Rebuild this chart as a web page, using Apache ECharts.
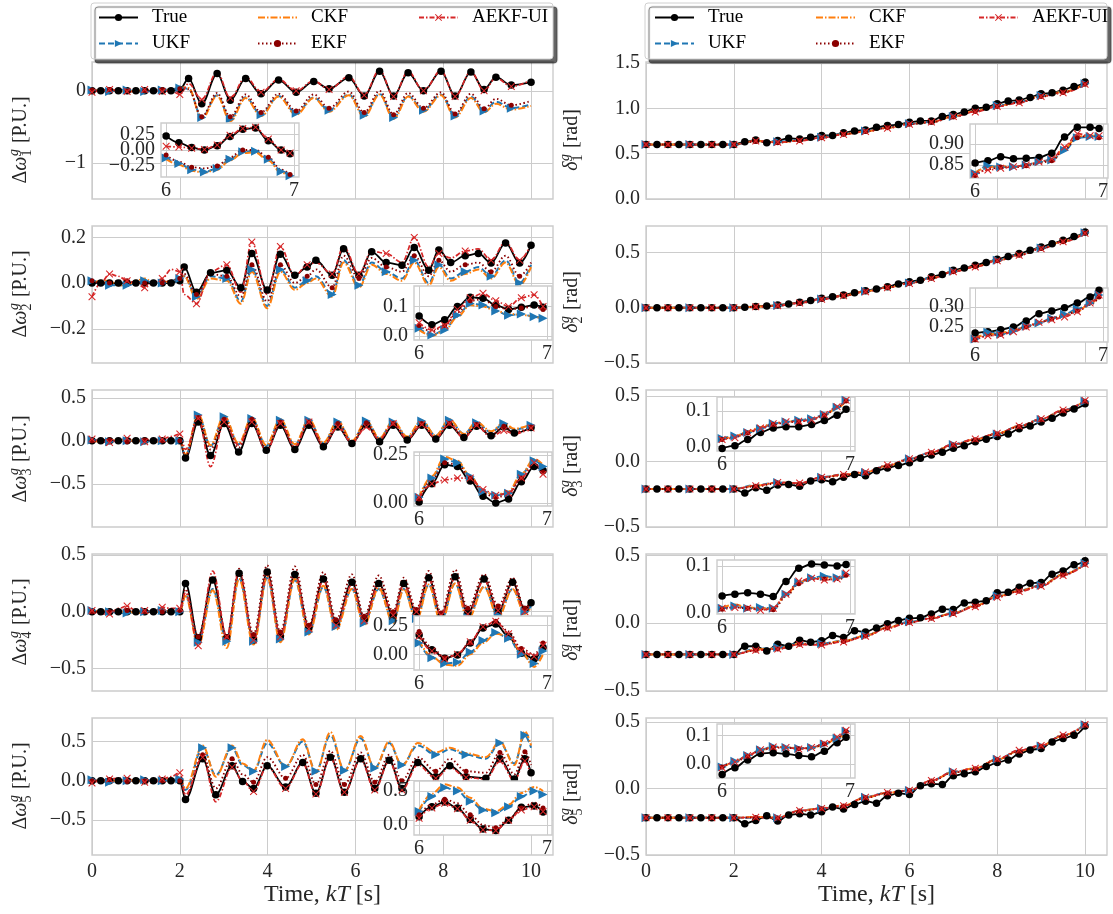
<!DOCTYPE html>
<html>
<head>
<meta charset="utf-8">
<script src="https://cdn.jsdelivr.net/npm/echarts@6/dist/echarts.min.js"></script>
<style>
  html, body { margin: 0; padding: 0; background: #fff; }
  #chart { width: 1113px; height: 914px; }
</style>
</head>
<body>
<div id="chart"></div>
<script>
// ---- time grids ----
const tW1 = [0, 0.2, 0.4, 0.6, 0.8, 1.0, 1.2, 1.4, 1.6, 1.8, 2.0, 2.2, 2.5, 2.85, 3.15, 3.5, 3.85, 4.25, 4.65, 5.05, 5.4, 5.85, 6.2, 6.55, 6.87, 7.2, 7.55, 7.95, 8.27, 8.63, 8.93, 9.2, 9.55, 10]
const tW2 = [0, 0.2, 0.4, 0.6, 0.8, 1.0, 1.2, 1.4, 1.6, 1.8, 2.0, 2.1, 2.38, 2.7, 3.07, 3.39, 3.64, 3.99, 4.29, 4.62, 4.9, 5.1, 5.47, 5.73, 6.08, 6.37, 6.7, 7.06, 7.34, 7.67, 7.9, 8.17, 8.5, 8.8, 9.09, 9.42, 9.74, 10]
const tW3 = [0, 0.2, 0.4, 0.6, 0.8, 1.0, 1.2, 1.4, 1.6, 1.8, 2.0, 2.13, 2.42, 2.7, 3.01, 3.34, 3.64, 3.97, 4.29, 4.62, 4.94, 5.27, 5.6, 5.92, 6.25, 6.55, 6.86, 7.18, 7.51, 7.83, 8.14, 8.47, 8.76, 9.09, 9.38, 9.62, 10]
const tW4 = [0, 0.2, 0.4, 0.6, 0.8, 1.0, 1.2, 1.4, 1.6, 1.8, 2.0, 2.13, 2.42, 2.75, 3.07, 3.35, 3.68, 3.99, 4.29, 4.62, 4.94, 5.27, 5.56, 5.92, 6.2, 6.53, 6.86, 7.1, 7.39, 7.67, 7.95, 8.27, 8.56, 8.93, 9.25, 9.58, 9.86, 10]
const tW5 = [0, 0.2, 0.4, 0.6, 0.8, 1.0, 1.2, 1.4, 1.6, 1.8, 2.0, 2.13, 2.52, 2.82, 3.19, 3.43, 3.68, 3.99, 4.41, 4.8, 5.1, 5.43, 5.75, 6.12, 6.44, 6.77, 7.06, 7.42, 7.83, 8.15, 8.52, 8.97, 9.29, 9.62, 9.86, 10]
const tD = [0, 0.25, 0.5, 0.75, 1, 1.25, 1.5, 1.75, 2, 2.25, 2.5, 2.75, 3, 3.25, 3.5, 3.75, 4, 4.25, 4.5, 4.75, 5, 5.25, 5.5, 5.75, 6, 6.25, 6.5, 6.75, 7, 7.25, 7.5, 7.75, 8, 8.25, 8.5, 8.75, 9, 9.25, 9.5, 9.75, 10]
const tDe = [0, 0.5, 1, 1.5, 2, 2.5, 3, 3.5, 4, 4.5, 5, 5.5, 6, 6.5, 7, 7.5, 8, 8.5, 9, 9.5, 10]
const tIn = [6, 6.1, 6.2, 6.3, 6.4, 6.5, 6.6, 6.7, 6.8, 6.9, 6.97]

// ---- speed deviation, generator 1..5 ----
const w1True = [0, 0, 0, 0, 0, 0, 0, 0, 0, 0, 0.02, 0.17, -0.18, 0.24, -0.13, 0.17, -0.04, 0.15, -0.02, 0.13, 0.03, 0.18, -0.07, 0.27, -0.07, 0.25, 0.0, 0.27, -0.07, 0.26, 0.02, 0.19, 0.08, 0.12]
const w1Ukf = [0.01, 0.0, -0.01, 0.01, 0.01, -0.01, -0.01, 0.0, 0.01, 0.02, 0.04, 0.03, -0.37, -0.06, -0.39, -0.09, -0.33, -0.07, -0.31, -0.09, -0.27, -0.05, -0.34, -0.04, -0.37, -0.07, -0.27, -0.05, -0.35, -0.08, -0.28, -0.15, -0.24, -0.19]
const w1Ckf = [0, 0.01, 0.01, 0.0, -0.01, 0.0, 0.01, 0.0, 0, 0.02, 0.05, 0.04, -0.39, -0.07, -0.42, -0.1, -0.35, -0.08, -0.33, -0.1, -0.29, -0.06, -0.36, -0.05, -0.39, -0.08, -0.29, -0.06, -0.37, -0.1, -0.3, -0.18, -0.26, -0.21]
const w1Ekf = [0.01, 0.0, 0.02, 0.01, 0.0, -0.01, 0.0, 0.01, 0.02, 0.01, 0.03, 0.02, -0.36, -0.03, -0.36, -0.05, -0.3, -0.04, -0.28, -0.05, -0.24, -0.01, -0.3, 0.0, -0.33, -0.03, -0.24, -0.02, -0.32, -0.04, -0.25, -0.11, -0.2, -0.14]
const w1Aekf = [-0.02, 0.0, 0.02, 0.0, -0.01, -0.02, 0.02, 0.01, -0.01, 0.0, -0.05, 0.1, -0.12, 0.26, -0.1, 0.19, -0.02, 0.16, 0.0, 0.14, 0.02, 0.2, -0.06, 0.29, -0.08, 0.27, 0.0, 0.28, -0.08, 0.27, 0.0, 0.18, 0.06, 0.15]

const w2True = [0, 0, 0, 0, 0, 0, 0, 0, 0, 0, 0.01, 0.07, -0.04, 0.045, 0.056, -0.02, 0.13, -0.03, 0.126, 0.034, 0.07, 0.1, 0.034, 0.15, 0.034, 0.137, 0.09, 0.078, 0.156, 0.056, 0.145, 0.09, 0.12, 0.13, 0.088, 0.176, 0.088, 0.166]
const w2Ukf = [0.01, 0.0, -0.01, -0.01, -0.01, 0.0, 0.01, 0.0, 0.0, 0.01, 0.02, 0.03, -0.06, 0.03, 0.02, -0.08, 0.06, -0.1, 0.06, -0.02, 0.01, 0.03, -0.05, 0.1, -0.01, 0.09, 0.05, 0.02, 0.1, 0.0, 0.08, 0.02, 0.05, 0.07, 0.03, 0.1, 0.0, 0.08]
const w2Ckf = [0.0, 0.01, 0.01, -0.01, -0.01, 0.01, 0.02, 0.0, 0.0, 0.01, 0.02, 0.03, -0.07, 0.02, 0.01, -0.09, 0.05, -0.11, 0.05, -0.03, 0.0, 0.02, -0.06, 0.09, -0.02, 0.08, 0.04, 0.01, 0.09, -0.01, 0.07, 0.01, 0.04, 0.06, 0.02, 0.09, -0.01, 0.07]
const w2Ekf = [0.01, 0.0, 0.0, 0.01, 0.01, 0.0, 0.0, 0.0, 0.0, 0.01, 0.02, 0.04, -0.05, 0.04, 0.03, -0.06, 0.08, -0.08, 0.08, 0.0, 0.03, 0.06, -0.02, 0.12, 0.02, 0.11, 0.07, 0.05, 0.12, 0.03, 0.1, 0.05, 0.08, 0.09, 0.05, 0.12, 0.03, 0.09]
const w2Aekf = [-0.06, 0.0, 0.04, 0.03, 0.01, 0.0, -0.02, 0.0, 0.02, 0.06, 0.05, -0.05, -0.09, 0.05, 0.08, -0.04, 0.18, -0.05, 0.16, 0.03, 0.08, 0.09, 0.04, 0.16, 0.04, 0.14, 0.13, 0.09, 0.2, 0.07, 0.13, 0.11, 0.14, 0.15, 0.1, 0.18, 0.1, 0.17]

const w3True = [0, 0, 0, 0, 0, 0, 0, 0, 0, 0, 0, -0.2, 0.22, -0.17, 0.2, -0.13, 0.2, -0.11, 0.18, -0.1, 0.18, -0.07, 0.16, -0.03, 0.19, -0.01, 0.18, 0.01, 0.18, 0.02, 0.18, 0.04, 0.17, 0.06, 0.16, 0.09, 0.155]
const w3Ukf = [0.01, 0.0, -0.01, 0.0, 0.0, 0.01, -0.01, 0.0, 0.0, 0.01, 0.0, -0.17, 0.3, -0.06, 0.28, -0.04, 0.26, -0.06, 0.24, -0.05, 0.24, -0.03, 0.22, -0.01, 0.23, 0.03, 0.22, 0.04, 0.23, 0.06, 0.24, 0.08, 0.21, 0.1, 0.2, 0.13, 0.18]
const w3Ckf = [0.0, -0.01, 0.0, 0.01, 0.01, 0.0, 0.0, -0.01, -0.01, 0.0, 0.0, -0.16, 0.31, -0.05, 0.29, -0.03, 0.27, -0.05, 0.25, -0.04, 0.25, -0.02, 0.23, 0.0, 0.23, 0.03, 0.23, 0.05, 0.24, 0.06, 0.25, 0.08, 0.22, 0.11, 0.21, 0.14, 0.19]
const w3Ekf = [0.0, 0.01, 0.01, 0.0, -0.01, 0.0, 0.01, 0.0, 0.0, 0.0, 0.0, -0.18, 0.27, -0.1, 0.25, -0.08, 0.25, -0.1, 0.22, -0.08, 0.22, -0.05, 0.2, -0.02, 0.21, 0.01, 0.2, 0.02, 0.2, 0.03, 0.2, 0.05, 0.19, 0.07, 0.17, 0.1, 0.16]
const w3Aekf = [0.02, -0.01, -0.02, 0.01, 0.03, 0.0, -0.01, 0.01, 0.02, 0.05, 0.08, -0.1, 0.26, -0.3, 0.22, -0.05, 0.22, -0.12, 0.2, -0.07, 0.22, -0.06, 0.16, -0.02, 0.16, 0.02, 0.2, 0.02, 0.19, 0.03, 0.2, 0.03, 0.18, 0.04, 0.12, 0.08, 0.15]

const w4True = [0, 0, 0, 0, 0, 0, 0, 0, 0, 0, 0, 0.25, -0.23, 0.28, -0.23, 0.34, -0.25, 0.35, -0.22, 0.33, -0.14, 0.29, -0.11, 0.26, -0.07, 0.25, -0.03, 0.25, -0.01, 0.3, -0.04, 0.31, -0.01, 0.29, 0.0, 0.26, 0.02, 0.08]
const w4Ukf = [0.01, 0.0, 0.0, -0.01, -0.01, 0.0, 0.0, 0.01, 0.01, 0.0, 0.0, 0.15, -0.27, 0.2, -0.26, 0.3, -0.26, 0.3, -0.24, 0.28, -0.18, 0.22, -0.13, 0.2, -0.1, 0.2, -0.08, 0.2, -0.06, 0.24, -0.08, 0.25, -0.05, 0.22, -0.03, 0.2, 0.0, 0.05]
const w4Ckf = [0.0, 0.01, 0.01, 0.0, 0.0, -0.01, -0.01, 0.0, 0.0, 0.01, 0.0, 0.14, -0.3, 0.19, -0.32, 0.29, -0.29, 0.31, -0.27, 0.29, -0.2, 0.23, -0.16, 0.2, -0.12, 0.21, -0.1, 0.2, -0.08, 0.24, -0.1, 0.25, -0.07, 0.22, -0.05, 0.2, -0.02, 0.04]
const w4Ekf = [0.0, 0.0, 0.0, 0.01, 0.01, 0.0, 0.0, 0.0, 0.0, 0.0, 0.01, 0.2, -0.22, 0.3, -0.22, 0.38, -0.2, 0.41, -0.18, 0.4, -0.12, 0.35, -0.07, 0.33, -0.04, 0.32, 0.0, 0.3, 0.02, 0.36, -0.01, 0.37, 0.03, 0.33, 0.05, 0.3, 0.03, 0.1]
const w4Aekf = [0.01, -0.02, -0.02, 0.03, 0.05, 0.01, 0.01, 0.0, 0.04, 0.03, 0.03, 0.17, -0.3, 0.36, -0.22, 0.36, -0.25, 0.33, -0.22, 0.33, -0.15, 0.28, -0.12, 0.24, -0.08, 0.24, -0.03, 0.24, 0.0, 0.29, -0.03, 0.3, -0.02, 0.28, 0.01, 0.25, 0.0, 0.1]

const w5True = [0, 0, 0, 0, 0, 0, 0, 0, 0, 0, 0, -0.24, 0.28, -0.18, 0.19, -0.01, -0.1, 0.19, -0.08, 0.23, -0.16, 0.3, -0.15, 0.28, -0.1, 0.26, -0.1, 0.23, 0.05, 0.19, 0.05, 0.03, 0.28, 0.02, 0.28, 0.1]
const w5Ukf = [0.01, -0.01, -0.02, 0.0, 0.0, 0.01, 0.01, 0.0, 0.0, 0.01, 0.02, -0.12, 0.42, 0.07, 0.42, 0.2, 0.12, 0.48, 0.18, 0.5, 0.12, 0.58, 0.13, 0.54, 0.16, 0.48, 0.2, 0.45, 0.33, 0.4, 0.33, 0.28, 0.48, 0.22, 0.58, 0.42]
const w5Ckf = [0.0, 0.0, -0.01, 0.0, 0.01, 0.0, 0.0, 0.01, 0.01, 0.02, 0.02, -0.1, 0.45, 0.05, 0.45, 0.22, 0.13, 0.52, 0.18, 0.53, 0.1, 0.62, 0.12, 0.57, 0.15, 0.5, 0.19, 0.48, 0.36, 0.42, 0.35, 0.3, 0.5, 0.2, 0.63, 0.45]
const w5Ekf = [0.0, 0.0, 0.01, 0.0, -0.01, 0.0, 0.0, 0.0, 0.0, 0.0, 0.0, -0.2, 0.33, -0.1, 0.28, 0.08, -0.02, 0.3, 0.03, 0.33, -0.05, 0.38, -0.05, 0.36, -0.02, 0.33, 0.0, 0.3, 0.12, 0.28, 0.12, 0.1, 0.36, 0.08, 0.37, 0.2]
const w5Aekf = [-0.03, 0.0, 0.02, 0.03, 0.03, -0.01, -0.02, -0.03, 0.02, 0.05, 0.1, -0.18, 0.3, -0.27, 0.17, 0.0, -0.14, 0.18, -0.1, 0.22, -0.17, 0.29, -0.15, 0.27, -0.12, 0.25, -0.12, 0.2, 0.03, 0.17, 0.04, 0.02, 0.25, 0.0, 0.25, 0.06]

// ---- rotor angle, generator 1..5 (True on tD, estimators on tDe) ----
const d1True = [0.6, 0.6, 0.6, 0.6, 0.6, 0.6, 0.6, 0.6, 0.6, 0.63, 0.65, 0.62, 0.645, 0.67, 0.66, 0.68, 0.7, 0.7, 0.73, 0.75, 0.76, 0.79, 0.81, 0.82, 0.845, 0.86, 0.86, 0.91, 0.93, 0.96, 1.0, 1.01, 1.05, 1.08, 1.09, 1.12, 1.16, 1.17, 1.2, 1.24, 1.29]
const d1Ukf = [0.6, 0.6, 0.6, 0.6, 0.6, 0.64, 0.63, 0.65, 0.68, 0.72, 0.75, 0.79, 0.83, 0.85, 0.91, 0.97, 1.03, 1.07, 1.14, 1.18, 1.27]
const d1Ckf = [0.6, 0.6, 0.6, 0.6, 0.6, 0.64, 0.625, 0.645, 0.68, 0.715, 0.745, 0.785, 0.83, 0.848, 0.91, 0.97, 1.025, 1.07, 1.135, 1.18, 1.27]
const d1Ekf = [0.6, 0.6, 0.6, 0.6, 0.6, 0.635, 0.62, 0.645, 0.675, 0.715, 0.745, 0.785, 0.825, 0.845, 0.905, 0.965, 1.02, 1.065, 1.13, 1.175, 1.265]
const d1Aekf = [0.6, 0.6, 0.6, 0.6, 0.6, 0.64, 0.625, 0.64, 0.675, 0.71, 0.745, 0.78, 0.825, 0.85, 0.91, 0.96, 1.02, 1.06, 1.13, 1.17, 1.265]

const d2True = [0, 0, 0, 0, 0, 0, 0, 0, 0, 0.005, 0.012, 0.015, 0.025, 0.035, 0.05, 0.065, 0.085, 0.1, 0.115, 0.135, 0.155, 0.17, 0.19, 0.215, 0.235, 0.25, 0.28, 0.3, 0.34, 0.36, 0.385, 0.41, 0.44, 0.465, 0.49, 0.52, 0.55, 0.58, 0.61, 0.645, 0.685]
const d2Ukf = [0, 0, 0, 0, 0, 0.01, 0.02, 0.045, 0.08, 0.11, 0.15, 0.185, 0.225, 0.27, 0.33, 0.375, 0.43, 0.48, 0.54, 0.6, 0.68]
const d2Ckf = [0, 0, 0, 0, 0, 0.01, 0.02, 0.044, 0.078, 0.11, 0.148, 0.185, 0.222, 0.268, 0.328, 0.373, 0.428, 0.478, 0.538, 0.6, 0.678]
const d2Ekf = [0, 0, 0, 0, 0, 0.009, 0.018, 0.043, 0.077, 0.108, 0.147, 0.183, 0.222, 0.266, 0.326, 0.371, 0.426, 0.476, 0.536, 0.598, 0.676]
const d2Aekf = [0, 0, 0, 0, 0, 0.008, 0.018, 0.043, 0.077, 0.108, 0.146, 0.182, 0.22, 0.265, 0.325, 0.37, 0.425, 0.475, 0.535, 0.597, 0.675]

const d3True = [-0.21, -0.21, -0.21, -0.21, -0.21, -0.21, -0.21, -0.21, -0.21, -0.24, -0.2, -0.22, -0.18, -0.175, -0.19, -0.15, -0.14, -0.155, -0.12, -0.1, -0.11, -0.07, -0.05, -0.03, -0.01, 0.025, 0.05, 0.07, 0.1, 0.12, 0.15, 0.17, 0.19, 0.21, 0.25, 0.27, 0.3, 0.33, 0.37, 0.4, 0.44]
const d3Ukf = [-0.21, -0.21, -0.21, -0.21, -0.21, -0.18, -0.16, -0.17, -0.12, -0.1, -0.085, -0.03, 0.02, 0.07, 0.13, 0.17, 0.21, 0.27, 0.32, 0.39, 0.46]
const d3Ckf = [-0.21, -0.21, -0.21, -0.21, -0.21, -0.185, -0.16, -0.168, -0.122, -0.1, -0.083, -0.032, 0.018, 0.068, 0.128, 0.168, 0.212, 0.268, 0.322, 0.388, 0.462]
const d3Ekf = [-0.21, -0.21, -0.21, -0.21, -0.21, -0.19, -0.165, -0.17, -0.125, -0.105, -0.088, -0.035, 0.015, 0.066, 0.125, 0.166, 0.21, 0.266, 0.318, 0.386, 0.46]
const d3Aekf = [-0.21, -0.21, -0.21, -0.21, -0.21, -0.185, -0.16, -0.165, -0.12, -0.1, -0.08, -0.028, 0.02, 0.07, 0.13, 0.172, 0.215, 0.27, 0.325, 0.392, 0.465]

const d4True = [-0.23, -0.23, -0.23, -0.23, -0.23, -0.23, -0.23, -0.23, -0.23, -0.17, -0.17, -0.205, -0.155, -0.17, -0.125, -0.14, -0.13, -0.09, -0.105, -0.055, -0.065, -0.035, -0.005, 0.02, 0.036, 0.04, 0.068, 0.103, 0.1, 0.148, 0.155, 0.165, 0.225, 0.228, 0.265, 0.295, 0.3, 0.36, 0.385, 0.43, 0.46]
const d4Ukf = [-0.23, -0.23, -0.23, -0.23, -0.23, -0.19, -0.18, -0.15, -0.15, -0.13, -0.09, -0.03, 0.01, 0.04, 0.075, 0.13, 0.2, 0.24, 0.28, 0.36, 0.44]
const d4Ckf = [-0.23, -0.23, -0.23, -0.23, -0.23, -0.195, -0.185, -0.152, -0.152, -0.132, -0.092, -0.032, 0.008, 0.038, 0.073, 0.128, 0.198, 0.238, 0.278, 0.358, 0.438]
const d4Ekf = [-0.23, -0.23, -0.23, -0.23, -0.23, -0.2, -0.19, -0.155, -0.155, -0.135, -0.095, -0.035, 0.006, 0.036, 0.072, 0.125, 0.195, 0.236, 0.276, 0.355, 0.435]
const d4Aekf = [-0.23, -0.23, -0.23, -0.23, -0.23, -0.2, -0.19, -0.158, -0.16, -0.138, -0.097, -0.036, 0.005, 0.035, 0.07, 0.122, 0.192, 0.233, 0.273, 0.352, 0.435]

const d5True = [-0.22, -0.22, -0.22, -0.22, -0.22, -0.22, -0.22, -0.22, -0.22, -0.265, -0.24, -0.205, -0.245, -0.2, -0.19, -0.2, -0.175, -0.14, -0.155, -0.12, -0.095, -0.11, -0.055, -0.035, -0.045, 0.02, 0.035, 0.03, 0.095, 0.11, 0.125, 0.165, 0.195, 0.215, 0.26, 0.29, 0.3, 0.35, 0.375, 0.4, 0.47]
const d5Ukf = [-0.22, -0.22, -0.22, -0.22, -0.22, -0.22, -0.22, -0.165, -0.15, -0.13, -0.065, -0.03, -0.015, 0.06, 0.125, 0.15, 0.22, 0.285, 0.32, 0.4, 0.48]
const d5Ckf = [-0.22, -0.22, -0.22, -0.22, -0.22, -0.215, -0.218, -0.168, -0.148, -0.128, -0.068, -0.032, -0.012, 0.058, 0.123, 0.152, 0.218, 0.283, 0.322, 0.398, 0.478]
const d5Ekf = [-0.22, -0.22, -0.22, -0.22, -0.22, -0.218, -0.222, -0.17, -0.152, -0.132, -0.07, -0.034, -0.016, 0.056, 0.12, 0.148, 0.216, 0.28, 0.318, 0.396, 0.476]
const d5Aekf = [-0.22, -0.22, -0.22, -0.22, -0.22, -0.216, -0.22, -0.166, -0.15, -0.13, -0.066, -0.03, -0.014, 0.06, 0.126, 0.152, 0.222, 0.288, 0.324, 0.402, 0.482]

// ---- zoomed windows 6..7 s ----
const w1InTrue = [0.23, 0.12, 0.04, 0.0, 0.07, 0.22, 0.34, 0.36, 0.15, 0.0, -0.06]
const w1InUkf = [-0.13, -0.22, -0.32, -0.36, -0.3, -0.15, -0.03, -0.02, -0.15, -0.35, -0.42]
const w1InCkf = [-0.15, -0.24, -0.34, -0.37, -0.32, -0.17, -0.05, -0.04, -0.17, -0.37, -0.42]
const w1InEkf = [-0.08, -0.19, -0.28, -0.3, -0.26, -0.12, 0.0, 0.0, -0.12, -0.32, -0.4]
const w1InAekf = [0.06, 0.05, 0.03, 0.01, 0.08, 0.24, 0.35, 0.37, 0.18, 0.0, -0.05]

const w2InTrue = [0.068, 0.038, 0.055, 0.1, 0.132, 0.128, 0.105, 0.09, 0.098, 0.105, 0.098]
const w2InUkf = [0.026, 0.003, 0.02, 0.07, 0.11, 0.105, 0.085, 0.07, 0.075, 0.065, 0.06]
const w2InCkf = [0.02, 0.0, 0.018, 0.065, 0.105, 0.1, 0.085, 0.075, 0.072, 0.066, 0.058]
const w2InEkf = [0.035, 0.015, 0.035, 0.08, 0.12, 0.125, 0.1, 0.09, 0.095, 0.1, 0.09]
const w2InAekf = [0.045, 0.02, 0.035, 0.09, 0.13, 0.145, 0.12, 0.1, 0.13, 0.14, 0.1]

const w3InTrue = [0.005, 0.1, 0.2, 0.19, 0.115, 0.035, 0.0, 0.02, 0.11, 0.19, 0.17]
const w3InUkf = [0.03, 0.13, 0.23, 0.21, 0.14, 0.06, 0.04, 0.05, 0.15, 0.22, 0.19]
const w3InCkf = [0.03, 0.14, 0.24, 0.22, 0.14, 0.06, 0.04, 0.06, 0.15, 0.23, 0.2]
const w3InEkf = [0.02, 0.12, 0.21, 0.2, 0.13, 0.05, 0.03, 0.04, 0.13, 0.2, 0.16]
const w3InAekf = [0.03, 0.1, 0.12, 0.13, 0.13, 0.07, 0.04, 0.05, 0.13, 0.21, 0.15]

const w4InTrue = [0.17, 0.04, -0.035, -0.005, 0.1, 0.23, 0.265, 0.155, 0.01, -0.04, 0.06]
const w4InUkf = [0.1, -0.03, -0.08, -0.07, 0.02, 0.12, 0.19, 0.14, 0.0, -0.08, 0.03]
const w4InCkf = [0.12, -0.02, -0.09, -0.1, 0.0, 0.1, 0.18, 0.16, 0.02, -0.11, 0.0]
const w4InEkf = [0.2, 0.06, -0.03, 0.0, 0.1, 0.24, 0.29, 0.2, 0.05, 0.0, 0.1]
const w4InAekf = [0.16, 0.03, -0.04, 0.0, 0.11, 0.24, 0.29, 0.18, 0.03, -0.02, 0.08]

const w5InTrue = [0.12, 0.27, 0.34, 0.25, 0.08, -0.06, -0.08, 0.07, 0.26, 0.28, 0.19]
const w5InUkf = [0.2, 0.42, 0.55, 0.5, 0.35, 0.22, 0.18, 0.27, 0.42, 0.5, 0.45]
const w5InCkf = [0.22, 0.46, 0.6, 0.55, 0.4, 0.24, 0.2, 0.3, 0.47, 0.56, 0.5]
const w5InEkf = [0.15, 0.3, 0.38, 0.32, 0.15, 0.0, -0.04, 0.08, 0.25, 0.33, 0.25]
const w5InAekf = [0.1, 0.25, 0.32, 0.24, 0.07, -0.07, -0.08, 0.07, 0.22, 0.27, 0.2]

const d1InTrue = [0.855, 0.86, 0.87, 0.865, 0.866, 0.868, 0.878, 0.917, 0.94, 0.94, 0.937]
const d1InUkf = [0.83, 0.848, 0.845, 0.846, 0.85, 0.858, 0.862, 0.885, 0.915, 0.918, 0.918]
const d1InCkf = [0.832, 0.845, 0.847, 0.845, 0.85, 0.857, 0.86, 0.89, 0.918, 0.92, 0.92]
const d1InEkf = [0.825, 0.84, 0.845, 0.844, 0.848, 0.855, 0.86, 0.888, 0.915, 0.922, 0.915]
const d1InAekf = [0.828, 0.838, 0.842, 0.846, 0.85, 0.857, 0.865, 0.893, 0.925, 0.92, 0.92]

const d2InTrue = [0.235, 0.238, 0.243, 0.25, 0.265, 0.283, 0.29, 0.298, 0.31, 0.325, 0.342]
const d2InUkf = [0.22, 0.237, 0.232, 0.24, 0.252, 0.26, 0.272, 0.282, 0.295, 0.31, 0.33]
const d2InCkf = [0.222, 0.232, 0.235, 0.242, 0.25, 0.262, 0.27, 0.28, 0.29, 0.308, 0.328]
const d2InEkf = [0.218, 0.228, 0.232, 0.24, 0.25, 0.26, 0.27, 0.278, 0.29, 0.305, 0.325]
const d2InAekf = [0.22, 0.228, 0.23, 0.238, 0.25, 0.262, 0.268, 0.275, 0.288, 0.31, 0.33]

const d3InTrue = [-0.005, 0.003, 0.02, 0.04, 0.052, 0.056, 0.056, 0.062, 0.073, 0.088, 0.105]
const d3InUkf = [0.023, 0.03, 0.04, 0.05, 0.065, 0.07, 0.074, 0.078, 0.09, 0.11, 0.13]
const d3InCkf = [0.02, 0.028, 0.042, 0.055, 0.065, 0.07, 0.072, 0.076, 0.088, 0.108, 0.128]
const d3InEkf = [0.02, 0.027, 0.038, 0.05, 0.062, 0.068, 0.07, 0.075, 0.088, 0.11, 0.128]
const d3InAekf = [0.02, 0.025, 0.04, 0.052, 0.064, 0.07, 0.071, 0.075, 0.09, 0.112, 0.13]

const d4InTrue = [0.036, 0.04, 0.043, 0.04, 0.035, 0.067, 0.095, 0.104, 0.102, 0.1, 0.103]
const d4InUkf = [0.01, 0.015, 0.01, 0.012, 0.01, 0.04, 0.065, 0.075, 0.078, 0.075, 0.082]
const d4InCkf = [0.012, 0.018, 0.012, 0.01, 0.01, 0.038, 0.065, 0.073, 0.075, 0.072, 0.08]
const d4InEkf = [0.008, 0.012, 0.01, 0.008, 0.007, 0.035, 0.062, 0.072, 0.072, 0.07, 0.08]
const d4InAekf = [0.01, 0.012, 0.01, 0.006, 0.01, 0.04, 0.068, 0.074, 0.07, 0.072, 0.085]

const d5InTrue = [-0.036, -0.012, 0.015, 0.037, 0.04, 0.036, 0.03, 0.026, 0.045, 0.075, 0.094]
const d5InUkf = [-0.01, 0.01, 0.03, 0.05, 0.062, 0.058, 0.055, 0.058, 0.07, 0.09, 0.115]
const d5InCkf = [-0.012, 0.008, 0.03, 0.048, 0.06, 0.06, 0.055, 0.056, 0.068, 0.09, 0.112]
const d5InEkf = [-0.01, 0.006, 0.028, 0.048, 0.058, 0.057, 0.054, 0.056, 0.07, 0.092, 0.115]
const d5InAekf = [-0.012, 0.008, 0.03, 0.05, 0.06, 0.058, 0.053, 0.058, 0.072, 0.095, 0.118]

// ---- tick values / labels ----
const timeTicks = [0, 2, 4, 6, 8, 10]
const timeTickLabels = ['0', '2', '4', '6', '8', '10']
const zoomTicks = [6, 7]
const zoomTickLabels = ['6', '7']
const w1Ticks = [-1, 0]
const w1TickLabels = ['−1', '0']
const w2Ticks = [-0.2, 0, 0.2]
const w2TickLabels = ['−0.2', '0.0', '0.2']
const halfTicks = [-0.5, 0, 0.5]
const halfTickLabels = ['−0.5', '0.0', '0.5']
const d1Ticks = [0, 0.5, 1, 1.5]
const d1TickLabels = ['0.0', '0.5', '1.0', '1.5']
const w1InTicks = [-0.25, 0, 0.25]
const w1InTickLabels = ['−0.25', '0.00', '0.25']
const tenthTicks = [0, 0.1]
const tenthTickLabels = ['0.0', '0.1']
const quarterTicks = [0, 0.25]
const quarterTickLabels = ['0.00', '0.25']
const w5InTicks = [0, 0.5]
const w5InTickLabels = ['0.0', '0.5']
const d1InTicks = [0.85, 0.9]
const d1InTickLabels = ['0.85', '0.90']
const d2InTicks = [0.25, 0.3]
const d2InTickLabels = ['0.25', '0.30']

// ---- styling ----
const FONT = '"Liberation Serif", "Times New Roman", serif'
const INK = '#262626'
const GREY = '#cccccc'
const NAMES = ['True', 'UKF', 'CKF', 'EKF', 'AEKF-UI']
const X_MARK = 'path://M1,0L5,4L9,0L10,1L6,5L10,9L9,10L5,6L1,10L0,9L4,5L0,1Z'
const STYLES = [
  { color: '#000000', dash: 'solid', width: 1.8, symbol: 'circle', rotate: 0, size: 7.5 },
  { color: '#1f77b4', dash: [6, 3], width: 2, symbol: 'triangle', rotate: -90, size: 9 },
  { color: '#ff7f0e', dash: [7, 2, 1.5, 2], width: 2, symbol: 'circle', rotate: 0, size: 0 },
  { color: '#8b0000', dash: [1.5, 2.5], width: 1.9, symbol: 'circle', rotate: 0, size: 5 },
  { color: '#d62728', dash: [5, 2, 1.5, 2], width: 1.7, symbol: X_MARK, rotate: 0, size: 7.5 }
]
const TICK_FONT = 20

const ROW_TOP = [62, 226, 390, 554, 718]
const ROW_H = 137
const LEFT_X = 92
const RIGHT_X = 646
const PLOT_W = 461

const wTrue = [w1True, w2True, w3True, w4True, w5True]
const wEst = [[w1Ukf, w1Ckf, w1Ekf, w1Aekf], [w2Ukf, w2Ckf, w2Ekf, w2Aekf], [w3Ukf, w3Ckf, w3Ekf, w3Aekf], [w4Ukf, w4Ckf, w4Ekf, w4Aekf], [w5Ukf, w5Ckf, w5Ekf, w5Aekf]]
const wTimes = [tW1, tW2, tW3, tW4, tW5]
const wRanges = [[-1.5, 0.4], [-0.35, 0.25], [-1.0, 0.59], [-0.7, 0.51], [-0.95, 0.8]]
const wTickSets = [[w1Ticks, w1TickLabels], [w2Ticks, w2TickLabels], [halfTicks, halfTickLabels], [halfTicks, halfTickLabels], [halfTicks, halfTickLabels]]

const dTrue = [d1True, d2True, d3True, d4True, d5True]
const dEst = [[d1Ukf, d1Ckf, d1Ekf, d1Aekf], [d2Ukf, d2Ckf, d2Ekf, d2Aekf], [d3Ukf, d3Ckf, d3Ekf, d3Aekf], [d4Ukf, d4Ckf, d4Ekf, d4Aekf], [d5Ukf, d5Ckf, d5Ekf, d5Aekf]]
const dRanges = [[0, 1.51], [-0.5, 0.74], [-0.5, 0.545], [-0.5, 0.51], [-0.5, 0.53]]
const dTickSets = [[d1Ticks, d1TickLabels], [halfTicks, halfTickLabels], [halfTicks, halfTickLabels], [halfTicks, halfTickLabels], [halfTicks, halfTickLabels]]

const insetSets = [
  { left: 161, top: 123, y: [-0.44, 0.44], ticks: [w1InTicks, w1InTickLabels], v: [w1InTrue, w1InUkf, w1InCkf, w1InEkf, w1InAekf] },
  { left: 414, top: 286, y: [-0.014, 0.17], ticks: [tenthTicks, tenthTickLabels], v: [w2InTrue, w2InUkf, w2InCkf, w2InEkf, w2InAekf] },
  { left: 414, top: 452, y: [-0.016, 0.266], ticks: [quarterTicks, quarterTickLabels], v: [w3InTrue, w3InUkf, w3InCkf, w3InEkf, w3InAekf] },
  { left: 414, top: 616, y: [-0.137, 0.335], ticks: [quarterTicks, quarterTickLabels], v: [w4InTrue, w4InUkf, w4InCkf, w4InEkf, w4InAekf] },
  { left: 414, top: 781, y: [-0.147, 0.647], ticks: [w5InTicks, w5InTickLabels], v: [w5InTrue, w5InUkf, w5InCkf, w5InEkf, w5InAekf] },
  { left: 970, top: 124, y: [0.819, 0.948], ticks: [d1InTicks, d1InTickLabels], v: [d1InTrue, d1InUkf, d1InCkf, d1InEkf, d1InAekf] },
  { left: 970, top: 288, y: [0.2125, 0.3475], ticks: [d2InTicks, d2InTickLabels], v: [d2InTrue, d2InUkf, d2InCkf, d2InEkf, d2InAekf] },
  { left: 717, top: 397, y: [-0.012, 0.139], ticks: [tenthTicks, tenthTickLabels], v: [d3InTrue, d3InUkf, d3InCkf, d3InEkf, d3InAekf] },
  { left: 717, top: 560, y: [-0.002, 0.1125], ticks: [tenthTicks, tenthTickLabels], v: [d4InTrue, d4InUkf, d4InCkf, d4InEkf, d4InAekf] },
  { left: 717, top: 724, y: [-0.048, 0.14], ticks: [tenthTicks, tenthTickLabels], v: [d5InTrue, d5InUkf, d5InCkf, d5InEkf, d5InAekf] }
]

// one entry per grid
const panels = []
for (let r = 0; r < 5; r++) {
  panels.push({
    rect: { left: LEFT_X, top: ROW_TOP[r], width: PLOT_W, height: ROW_H },
    x: [0, 10.5], xt: [timeTicks, timeTickLabels], showX: r === 4,
    y: wRanges[r], yt: wTickSets[r],
    lines: [[wTimes[r], wTrue[r]]].concat(wEst[r].map(v => [wTimes[r], v])),
    every: [1, 2, 1, 2, 2], inset: false
  })
  panels.push({
    rect: { left: RIGHT_X, top: ROW_TOP[r], width: PLOT_W, height: ROW_H },
    x: [0, 10.5], xt: [timeTicks, timeTickLabels], showX: r === 4,
    y: dRanges[r], yt: dTickSets[r],
    lines: [[tD, dTrue[r]]].concat(dEst[r].map(v => [tDe, v])),
    every: [1, 2, 1, 1, 1], inset: false
  })
}
insetSets.forEach(s => {
  panels.push({
    rect: { left: s.left, top: s.top, width: 138, height: 54 },
    x: [5.96, 7.04], xt: [zoomTicks, zoomTickLabels], showX: true,
    y: s.y, yt: s.ticks,
    lines: s.v.map(v => [tIn, v]),
    every: [1, 1, 1, 2, 1], inset: true
  })
})

function labeler(ticks, labels) {
  return v => {
    const i = ticks.findIndex(t => Math.abs(t - v) < 1e-6)
    return i < 0 ? '' : labels[i]
  }
}

function axisOpt(p, i, dir, labelValues) {
  const range = dir === 'x' ? p.x : p.y
  const ticks = dir === 'x' ? p.xt : p.yt
  const opt = {
    type: 'value',
    gridIndex: i,
    position: dir === 'x' ? 'bottom' : 'left',
    offset: 0,
    min: range[0],
    max: range[1],
    z: p.inset ? 4 : 0,
    axisLine: { show: false },
    axisTick: { show: false, customValues: ticks[0] },
    axisLabel: {
      show: dir === 'y' || p.showX,
      customValues: labelValues || ticks[0],
      formatter: labeler(ticks[0], ticks[1]),
      hideOverlap: false,
      showMinLabel: true,
      showMaxLabel: true,
      fontFamily: FONT,
      fontSize: TICK_FONT,
      color: INK,
      margin: dir === 'x' ? (p.inset ? 4 : 7) : 6
    },
    splitLine: { show: true, lineStyle: { color: GREY, width: 1 } }
  }
  if (dir === 'x' && !p.inset && p.showX) {
    opt.name = '{n|Time, }{i|kT}{n| [s]}'
    opt.nameLocation = 'middle'
    opt.nameGap = 27
    opt.nameTextStyle = {
      rich: {
        n: { fontFamily: FONT, fontSize: 24, color: INK },
        i: { fontFamily: FONT, fontSize: 24, color: INK, fontStyle: 'italic' }
      }
    }
  }
  return opt
}

const xAxes = panels.map((p, i) => axisOpt(p, i, 'x'))
const yAxes = panels.map((p, i) => axisOpt(p, i, 'y', p.inset ? [p.yt[0][0]] : null))
// zoomed windows: one extra label-only axis per remaining tick, so tightly packed labels all survive
panels.forEach((p, i) => {
  if (!p.inset) return
  p.yt[0].slice(1).forEach(v => {
    const extra = axisOpt(p, i, 'y', [v])
    extra.splitLine = { show: false }
    yAxes.push(extra)
  })
})

const series = []
panels.forEach((p, i) => {
  p.lines.forEach((ln, k) => {
    const st = STYLES[k]
    const every = p.every[k]
    series.push({
      name: NAMES[k],
      type: 'line',
      xAxisIndex: i,
      yAxisIndex: i,
      data: ln[0].map((t, j) => [t, ln[1][j]]),
      smooth: 0.35,
      smoothMonotone: 'x',
      symbol: st.symbol,
      symbolRotate: st.rotate,
      symbolSize: (val, prm) => (prm.dataIndex % every === 0 ? st.size : 0),
      showSymbol: true,
      lineStyle: { color: st.color, width: st.width, type: st.dash },
      itemStyle: { color: st.color },
      z: p.inset ? 5 : 2,
      silent: true
    })
  })
})

// rotated y-axis titles with stacked super/subscript
const mctx = document.createElement('canvas').getContext('2d')
function tw(s, size, italic) {
  mctx.font = (italic ? 'italic ' : '') + size + 'px ' + FONT
  return mctx.measureText(s).width
}
function yTitle(cx, cy, parts, sub, unit) {
  const F = 20
  const S = 14
  const items = []
  let w = 0
  parts.forEach(p => {
    items.push({ text: p[0], x: w, y: 0, size: F, it: p[1] })
    w += tw(p[0], F, p[1])
  })
  items.push({ text: 'g', x: w + 0.5, y: -7, size: S, it: true })
  items.push({ text: sub, x: w, y: 6, size: S, it: false })
  w += Math.max(tw('g', S, true), tw(sub, S, false)) + 1.5
  items.push({ text: unit, x: w, y: 0, size: F, it: false })
  w += tw(unit, F, false)
  const off = -w / 2
  return {
    type: 'group',
    x: cx,
    y: cy,
    rotation: Math.PI / 2,
    silent: true,
    children: items.map(it => ({
      type: 'text',
      x: it.x + off,
      y: it.y,
      style: {
        text: it.text,
        fontSize: it.size,
        fontFamily: FONT,
        fontStyle: it.it ? 'italic' : 'normal',
        fill: INK,
        align: 'left',
        verticalAlign: 'middle',
        textAlign: 'left',
        textVerticalAlign: 'middle'
      }
    }))
  }
}

const leftTitleY = [140, 294, 459, 622, 786]
const rightTitleY = [140, 302, 466, 630, 794]
const graphics = []
function legendBox(x) {
  return {
    type: 'rect',
    z: 10,
    silent: true,
    shape: { x: x, y: 3, width: 462, height: 56, r: 3 },
    style: {
      fill: '#ffffff', stroke: '#d0d0d0', lineWidth: 1,
      shadowOffsetX: 4, shadowOffsetY: 4, shadowBlur: 1, shadowColor: 'rgba(0,0,0,0.6)'
    }
  }
}
graphics.push(legendBox(91), legendBox(645))
for (let r = 0; r < 5; r++) {
  graphics.push(yTitle(21, leftTitleY[r], [['Δ', false], ['ω', true]], String(r + 1), ' [P.U.]'))
  graphics.push(yTitle(572, rightTitleY[r], [['δ', true]], String(r + 1), ' [rad]'))
}

const legendBase = {
  orient: 'vertical',
  itemWidth: 39,
  itemHeight: 9,
  itemGap: 7,
  padding: 0,
  selectedMode: false,
  z: 12,
  textStyle: { fontFamily: FONT, fontSize: 19, color: '#000', padding: [0, 0, 0, 9] }
}
const ckfItem = { name: 'CKF', itemStyle: { opacity: 0 } }

const option = {
  animation: false,
  backgroundColor: '#ffffff',
  grid: panels.map(p => ({
    left: p.rect.left,
    top: p.rect.top,
    width: p.rect.width,
    height: p.rect.height,
    show: true,
    backgroundColor: '#ffffff',
    borderColor: GREY,
    borderWidth: 1.4,
    z: p.inset ? 3 : 0
  })),
  xAxis: xAxes,
  yAxis: yAxes,
  legend: [
    Object.assign({}, legendBase, { left: 98, top: 8, data: ['True', 'UKF'] }),
    Object.assign({}, legendBase, { left: 257, top: 8, data: [ckfItem, 'EKF'] }),
    Object.assign({}, legendBase, { left: 418, top: 8, data: ['AEKF-UI'] }),
    Object.assign({}, legendBase, { left: 654, top: 8, data: ['True', 'UKF'] }),
    Object.assign({}, legendBase, { left: 815, top: 8, data: [ckfItem, 'EKF'] }),
    Object.assign({}, legendBase, { left: 978, top: 8, data: ['AEKF-UI'] })
  ],
  graphic: { elements: graphics },
  series: series
}

const chart = echarts.init(document.getElementById('chart'))
chart.setOption(option)
</script>
</body>
</html>
